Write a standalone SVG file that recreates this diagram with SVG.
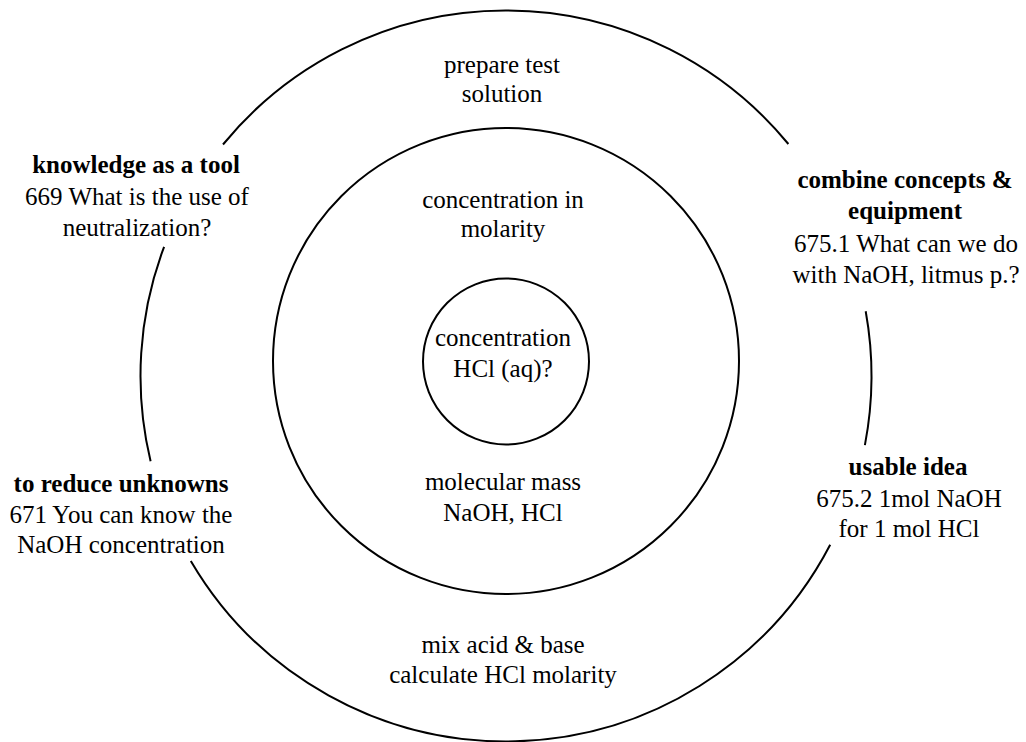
<svg xmlns="http://www.w3.org/2000/svg" width="1026" height="742" viewBox="0 0 1026 742">
<style>
.ring{fill:none;stroke:#000;stroke-width:2}
text{font-family:"Liberation Serif","Times New Roman",serif;font-size:25px;fill:#000;text-anchor:middle}
.b{font-weight:bold}
</style>
<rect width="1026" height="742" fill="#fff"/>
<g id="connectors">
<path class="ring" d="M223.0,144.5 A365.5,365.5 0 0 1 788.4,144.0"/>
<path class="ring" d="M865.7,311.3 A365.5,365.5 0 0 1 864.9,445.1"/>
<path class="ring" d="M830.2,544.8 A365.5,365.5 0 0 1 190.8,560.9"/>
<path class="ring" d="M150.6,461.3 A365.5,365.5 0 0 1 164.1,246.8"/>
</g>
<g id="middle">
<circle class="ring" cx="506" cy="361" r="233"/>
</g>
<g id="inner">
<circle class="ring" cx="506" cy="361.5" r="83"/>
<text x="503" y="346">concentration</text>
<text x="503" y="377">HCl (aq)?</text>
</g>
<g id="outer-top">
<text x="502" y="73">prepare test</text>
<text x="502" y="102">solution</text>
</g>
<g id="middle-top">
<text x="503" y="208">concentration in</text>
<text x="503" y="237">molarity</text>
</g>
<g id="middle-bottom">
<text x="503" y="490">molecular mass</text>
<text x="503" y="521">NaOH, HCl</text>
</g>
<g id="outer-bottom">
<text x="503" y="653">mix acid &amp; base</text>
<text x="503" y="683">calculate HCl molarity</text>
</g>
<g id="knowledge">
<text class="b" x="136" y="173">knowledge as a tool</text>
<text x="137" y="205">669 What is the use of</text>
<text x="137" y="236">neutralization?</text>
</g>
<g id="combine">
<text class="b" x="905" y="188">combine concepts &amp;</text>
<text class="b" x="905" y="219">equipment</text>
<text x="906" y="252">675.1 What can we do</text>
<text x="906" y="283">with NaOH, litmus p.?</text>
</g>
<g id="reduce">
<text class="b" x="121" y="492">to reduce unknowns</text>
<text x="121" y="523">671 You can know the</text>
<text x="121" y="553">NaOH concentration</text>
</g>
<g id="usable">
<text class="b" x="908" y="475">usable idea</text>
<text x="909" y="507">675.2 1mol NaOH</text>
<text x="909" y="537">for 1 mol HCl</text>
</g>
</svg>
